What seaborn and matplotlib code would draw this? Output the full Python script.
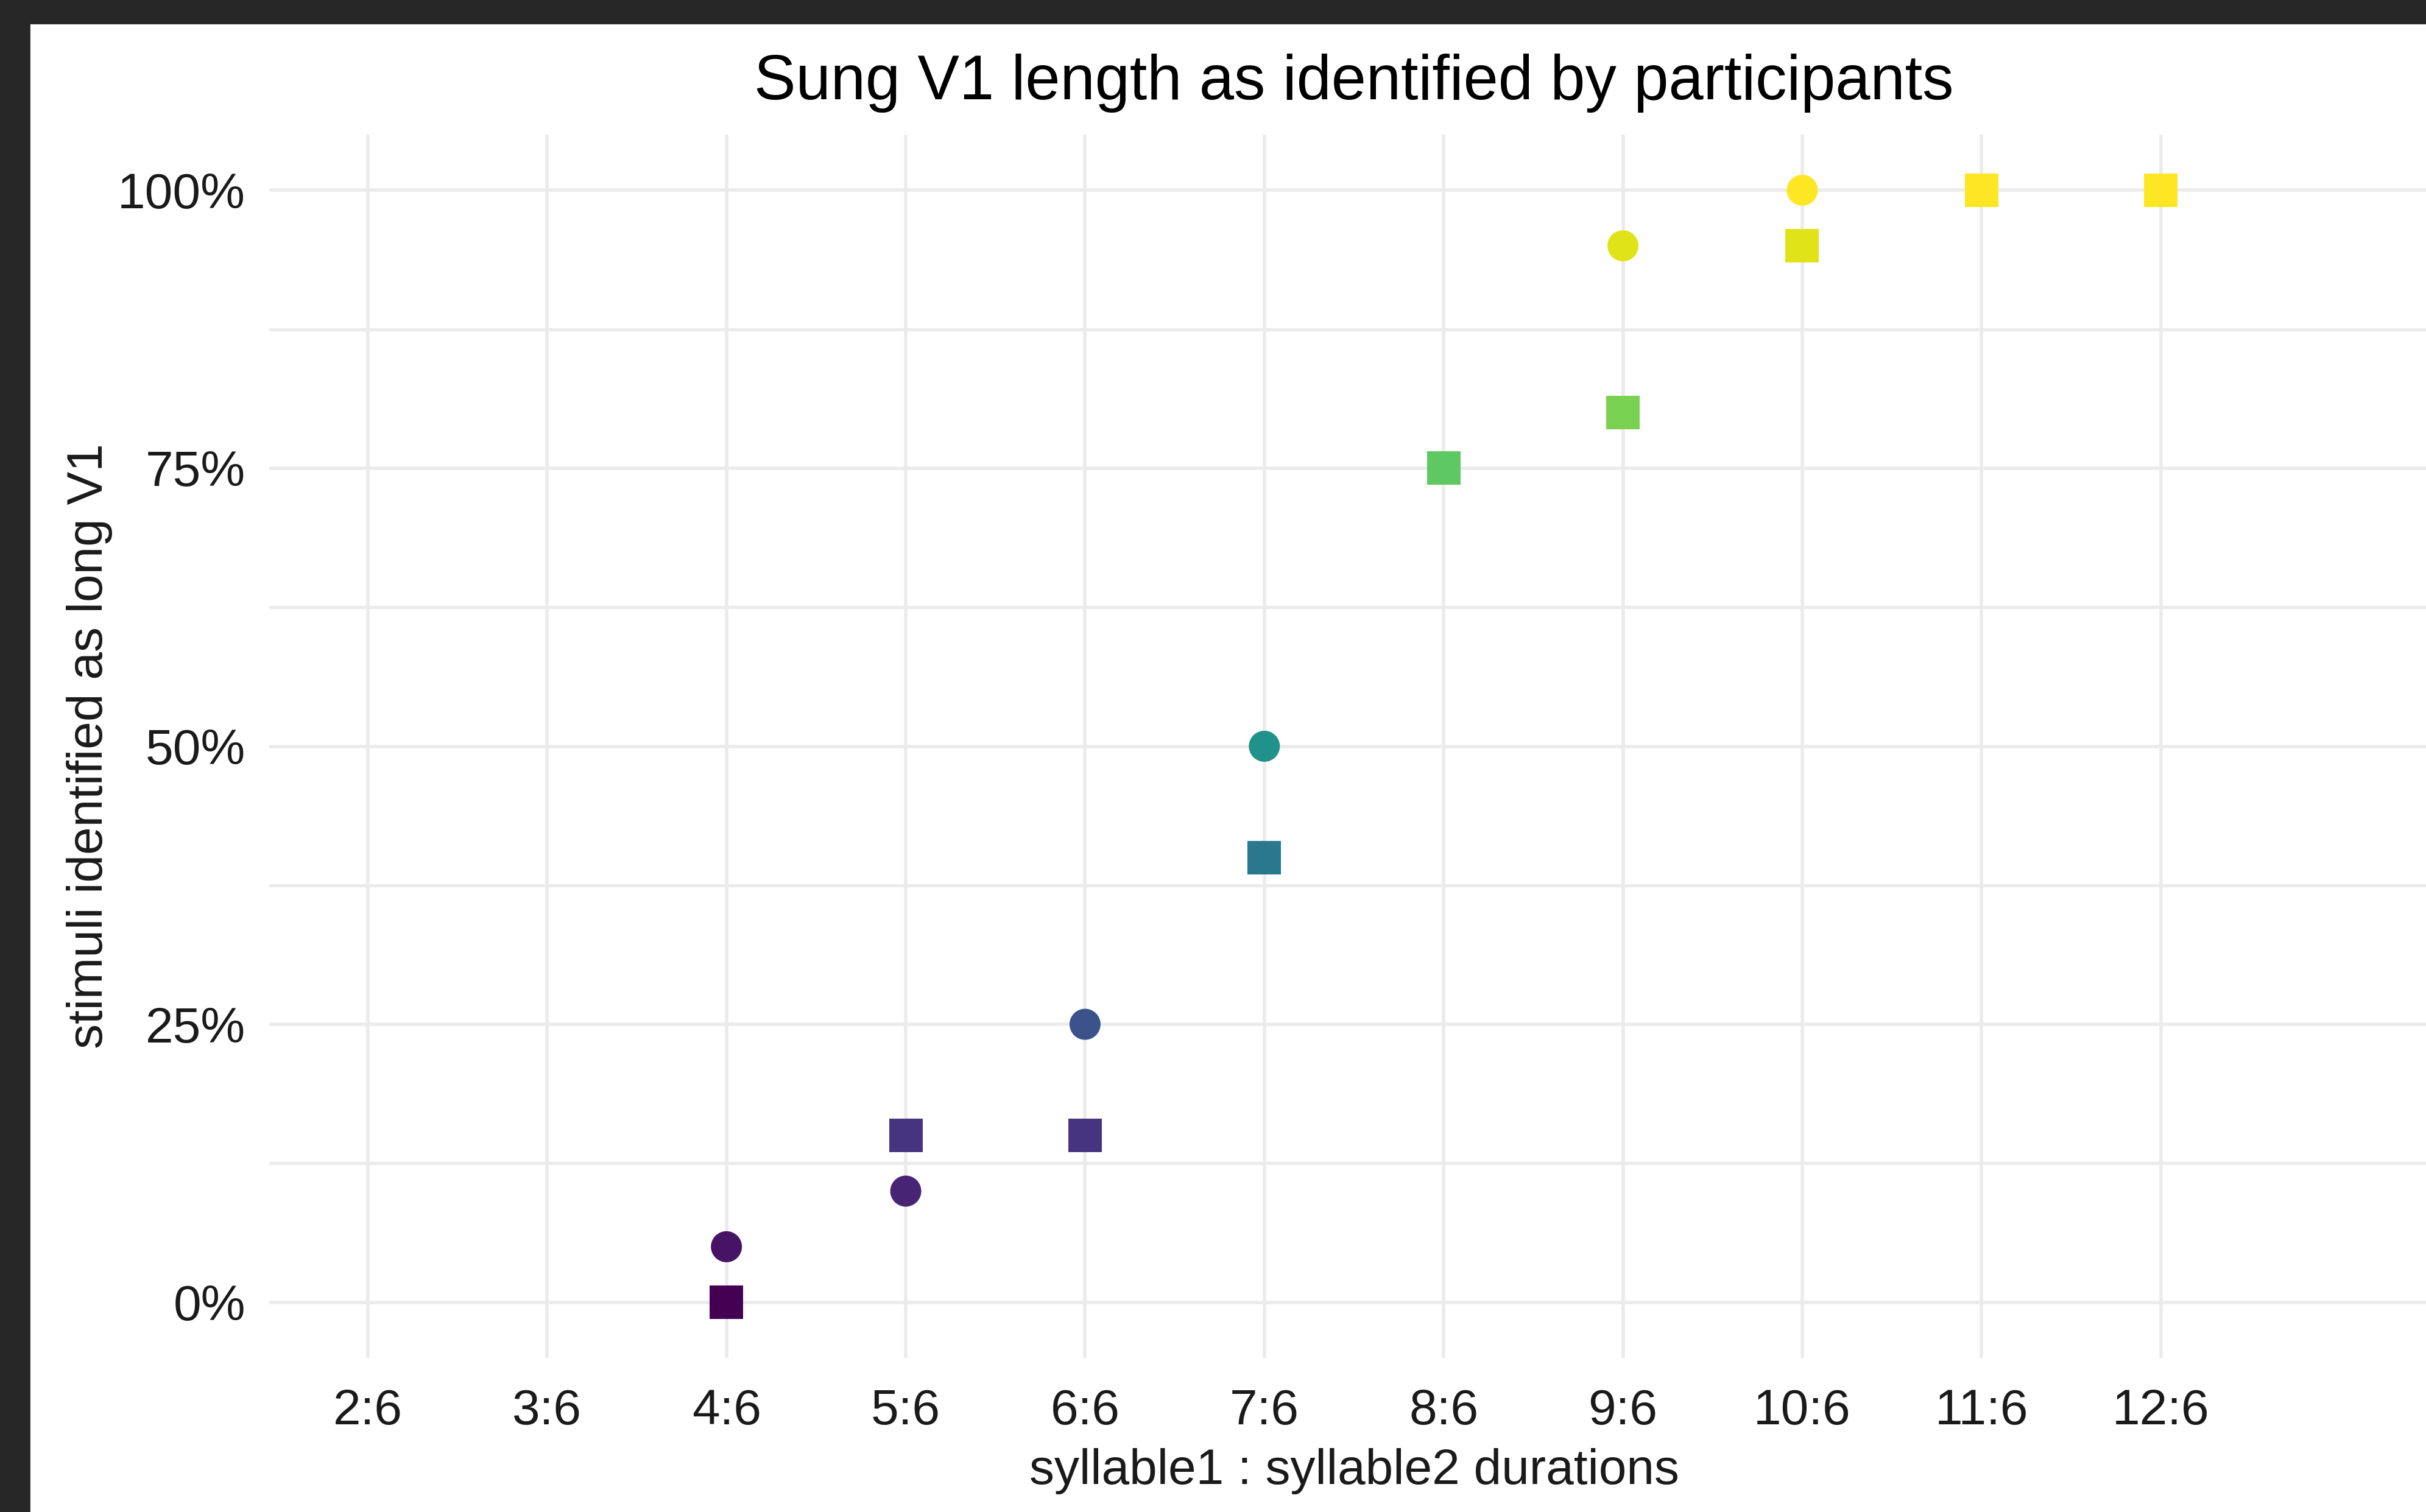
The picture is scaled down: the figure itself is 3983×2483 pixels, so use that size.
import numpy as np
import pandas as pd
import matplotlib
matplotlib.use("Agg")
import matplotlib.pyplot as plt
from matplotlib.patches import Rectangle
import seaborn as sns

# ==========================================================
# Dados
# ==========================================================
x_ticks = [2, 3, 4, 5, 6, 7, 8, 9, 10, 11, 12]
x_labels = ["2:6", "3:6", "4:6", "5:6", "6:6", "7:6", "8:6", "9:6", "10:6", "11:6", "12:6"]
y_ticks = [0, 25, 50, 75, 100]
y_labels = ["0%", "25%", "50%", "75%", "100%"]

# grupo 1 (círculos)
circ_x = [4, 5, 6, 7, 9, 10]
circ_y = [5, 10, 25, 50, 95, 100]
# grupo 2 (quadrados)
quad_x = [4, 5, 6, 7, 8, 9, 10, 11, 12]
quad_y = [0, 15, 15, 40, 75, 80, 95, 100, 100]

df = pd.concat([
    pd.DataFrame({"ratio": circ_x, "pct": circ_y, "grupo": "circ"}),
    pd.DataFrame({"ratio": quad_x, "pct": quad_y, "grupo": "quad"}),
], ignore_index=True)

# ==========================================================
# Figura
# ==========================================================
sns.set_theme(style="white")
plt.rcParams["font.family"] = ["Liberation Sans", "DejaVu Sans"]

W, H = 3983, 2483
fig = plt.figure(figsize=(W / 200, H / 200), dpi=200)
fig.patch.set_facecolor("white")

# moldura escura da captura de tela
fig.patches.append(Rectangle((0, 1 - 38 / H), 1, 38 / H, transform=fig.transFigure,
                             color="#272727", zorder=10))
fig.patches.append(Rectangle((0, 0), 48 / W, 1, transform=fig.transFigure,
                             color="#272727", zorder=10))

ax = fig.add_axes([442 / W, 1 - 2230 / H, (4004 - 442) / W, (2230 - 221) / H])

marcadores = {"circ": ("o", 337), "quad": ("s", 392)}
for g, (m, s) in marcadores.items():
    sub = df[df["grupo"] == g]
    sns.scatterplot(data=sub, x="ratio", y="pct", hue="pct", palette="viridis",
                    hue_norm=(0, 100), marker=m, s=s, linewidth=0,
                    legend=False, ax=ax, zorder=3)

ax.set_xlim(1.45, 13.55)
ax.set_ylim(-5, 105)
ax.set_xticks(x_ticks)
ax.set_xticklabels(x_labels)
ax.set_yticks(y_ticks)
ax.set_yticklabels(y_labels)
ax.set_yticks([12.5, 37.5, 62.5, 87.5], minor=True)

ax.grid(True, which="major", color="#ebebeb", linewidth=2.0)
ax.grid(True, which="minor", axis="y", color="#ebebeb", linewidth=1.9)
ax.set_axisbelow(True)
for sp in ax.spines.values():
    sp.set_visible(False)

fs = 29.5
ax.tick_params(axis="x", length=0, pad=18, labelsize=fs, labelcolor="#1a1a1a")
ax.tick_params(axis="y", which="both", length=0, pad=14, labelsize=fs, labelcolor="#1a1a1a")

ax.set_xlabel("syllable1 : syllable2 durations", fontsize=fs, labelpad=8, color="#1a1a1a")
ax.set_ylabel("stimuli identified as long V1", fontsize=fs, labelpad=3, color="#1a1a1a")
ax.set_title("Sung V1 length as identified by participants", fontsize=37, pad=21, color="black")

fig.savefig("out.png", dpi=200, facecolor="white")
